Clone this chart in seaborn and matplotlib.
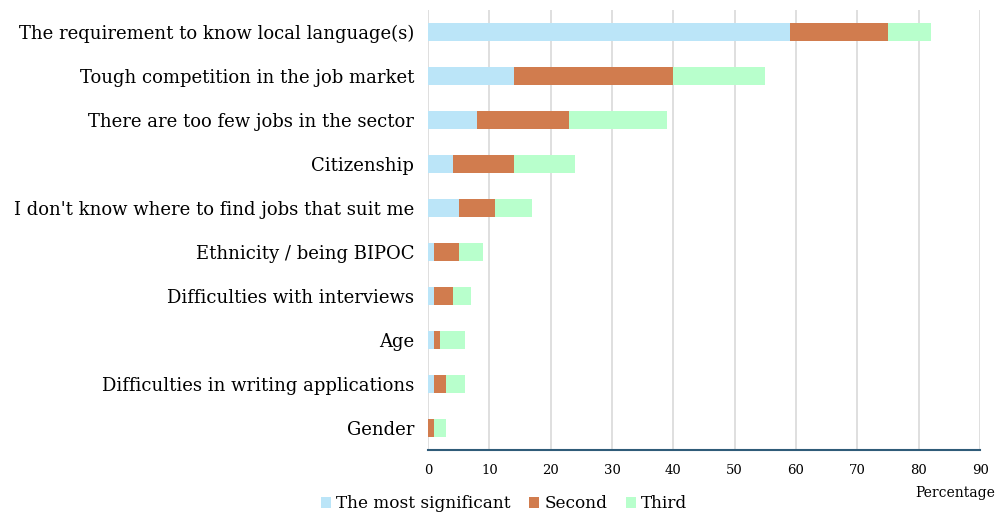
import numpy as np
import pandas as pd
import matplotlib.pyplot as plt
import seaborn as sns
from matplotlib.patches import Patch

# =========================
# DATA
# =========================
reasons = [
    "The requirement to know local language(s)",
    "Tough competition in the job market",
    "There are too few jobs in the sector",
    "Citizenship",
    "I don't know where to find jobs that suit me",
    "Ethnicity / being BIPOC",
    "Difficulties with interviews",
    "Age",
    "Difficulties in writing applications",
    "Gender",
]
most_significant = [59, 14, 8, 4, 5, 1, 1, 1, 1, 0]
second = [16, 26, 15, 10, 6, 4, 3, 1, 2, 1]
third = [7, 15, 16, 10, 6, 4, 3, 4, 3, 2]

series_names = ["The most significant", "Second", "Third"]
colors = ["#BBE5F8", "#D17C4E", "#B8FFCC"]

# =========================
# PLOT
# =========================
sns.set_style("white")
plt.rcParams["font.family"] = ["DejaVu Serif"]
plt.rcParams["text.color"] = "black"
plt.rcParams["xtick.color"] = "black"
plt.rcParams["ytick.color"] = "black"

df = pd.DataFrame({
    "reason": reasons,
    "s1": most_significant,
    "s2": second,
    "s3": third,
})
df["c1"] = df["s1"]
df["c2"] = df["s1"] + df["s2"]
df["c3"] = df["c2"] + df["s3"]

fig = plt.figure(figsize=(9.96, 5.14), dpi=100)
ax = fig.add_axes([0.4297, 0.1245, 0.5543, 0.856])

# stacked bars: draw cumulative totals from back to front
for col, color in zip(["c3", "c2", "c1"], colors[::-1]):
    sns.barplot(data=df, x=col, y="reason", orient="h", color=color,
                width=0.4, ax=ax, saturation=1, linewidth=0)

ax.set_xlim(0, 90)
ax.set_ylim(9.5, -0.5)
ax.set_xticks(np.arange(0, 91, 10))
ax.xaxis.grid(True, color="#D9D9D9", linewidth=1.2)
ax.set_axisbelow(True)
ax.set_xlabel("")
ax.set_ylabel("")
for side in ["top", "right", "left"]:
    ax.spines[side].set_visible(False)
ax.spines["bottom"].set_color("#2F5B78")
ax.spines["bottom"].set_linewidth(1.5)
ax.tick_params(axis="x", length=0, pad=10, labelsize=9.5)
ax.tick_params(axis="y", length=0, pad=10, labelsize=13)

fig.text(0.9995, 0.04, "Percentage", ha="right", va="center", fontsize=10)

handles = [Patch(facecolor=c, edgecolor="none", label=n) for n, c in zip(series_names, colors)]
fig.legend(handles=handles, loc="center left", bbox_to_anchor=(0.322, 0.02),
           ncol=3, frameon=False, fontsize=12.2, handlelength=0.6, handleheight=0.6,
           handletextpad=0.3, columnspacing=1.1, borderaxespad=0, borderpad=0)

plt.savefig("out.png", dpi=100)
plt.close()
